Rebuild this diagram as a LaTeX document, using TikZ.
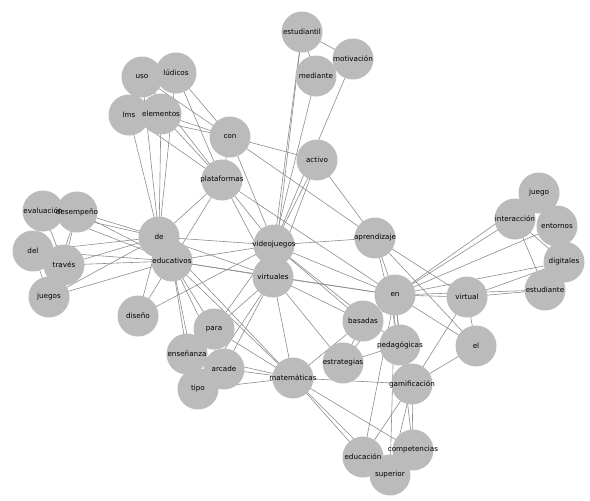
\documentclass[tikz,border=0pt]{standalone}
\usepackage{fontspec}
\setmainfont{DejaVu Sans}
\usetikzlibrary{backgrounds}
\definecolor{disk}{HTML}{BBBBBB}
\definecolor{wire}{HTML}{8C8C8C}
\pgfdeclarelayer{edgelayer}
\pgfdeclarelayer{disklayer}
\pgfsetlayers{edgelayer,disklayer,main}

\begin{document}
\begin{tikzpicture}[x=1pt, y=-1pt,
    word/.style={inner sep=0pt, font=\fontsize{7.2}{8}\selectfont},
    link/.style={wire, line width=0.6pt}]
    \useasboundingbox (0,0) rectangle (590,501);

    % Words
    \node[word] (estudiantil) at (302,32) {estudiantil};
    \node[word] (motivacion) at (353,59) {motivación};
    \node[word] (mediante) at (316,76) {mediante};
    \node[word] (uso) at (142,77) {uso};
    \node[word] (ludicos) at (176,73) {lúdicos};
    \node[word] (lms) at (129,115) {lms};
    \node[word] (elementos) at (161,114) {elementos};
    \node[word] (con) at (230,137) {con};
    \node[word] (activo) at (317,160) {activo};
    \node[word] (plataformas) at (222,180) {plataformas};
    \node[word] (evaluacion) at (43,211) {evaluación};
    \node[word] (desempeno) at (77,212) {desempeño};
    \node[word] (de) at (159,237) {de};
    \node[word] (del) at (33,251) {del};
    \node[word] (traves) at (64,265) {través};
    \node[word] (educativos) at (172,261) {educativos};
    \node[word] (videojuegos) at (274,245) {videojuegos};
    \node[word] (virtuales) at (273,277) {virtuales};
    \node[word] (juegos) at (49,297) {juegos};
    \node[word] (diseno) at (138,316) {diseño};
    \node[word] (aprendizaje) at (375,238) {aprendizaje};
    \node[word] (juego) at (539,193) {juego};
    \node[word] (interaccion) at (515,219) {interacción};
    \node[word] (entornos) at (557,226) {entornos};
    \node[word] (digitales) at (564,262) {digitales};
    \node[word] (estudiante) at (545,290) {estudiante};
    \node[word] (en) at (395,295) {en};
    \node[word] (virtual) at (467,297) {virtual};
    \node[word] (basadas) at (363,321) {basadas};
    \node[word] (pedagogicas) at (400,345) {pedagógicas};
    \node[word] (el) at (476,346) {el};
    \node[word] (estrategias) at (343,363) {estrategias};
    \node[word] (gamificacion) at (412,384) {gamificación};
    \node[word] (para) at (214,329) {para};
    \node[word] (ensenanza) at (187,354) {enseñanza};
    \node[word] (arcade) at (224,369) {arcade};
    \node[word] (tipo) at (198,389) {tipo};
    \node[word] (matematicas) at (293,378) {matemáticas};
    \node[word] (educacion) at (363,457) {educación};
    \node[word] (competencias) at (413,450) {competencias};
    \node[word] (superior) at (390,475) {superior};

    % Disks behind the words
    \begin{pgfonlayer}{disklayer}
    \foreach \w in {estudiantil,motivacion,mediante,uso,ludicos,lms,elementos,con,activo,
        plataformas,evaluacion,desempeno,de,del,traves,educativos,videojuegos,virtuales,
        juegos,diseno,aprendizaje,juego,interaccion,entornos,digitales,estudiante,en,
        virtual,basadas,pedagogicas,el,estrategias,gamificacion,para,ensenanza,arcade,
        tipo,matematicas,educacion,competencias,superior}
        \fill[disk] (\w.center) circle (20.5);
    \end{pgfonlayer}

    % Co-occurrence links
    \begin{pgfonlayer}{edgelayer}
    \foreach \a/\b in {uso/de, uso/con, uso/plataformas,
        ludicos/de, ludicos/con, ludicos/plataformas,
        lms/de, lms/con, lms/plataformas,
        elementos/de, elementos/con, elementos/plataformas,
        con/videojuegos, con/activo, con/aprendizaje, con/plataformas,
        plataformas/de, plataformas/educativos, plataformas/videojuegos,
        plataformas/virtuales, plataformas/en,
        estudiantil/motivacion, estudiantil/mediante, estudiantil/videojuegos,
        estudiantil/virtuales, mediante/videojuegos, motivacion/videojuegos,
        activo/videojuegos, activo/virtuales, activo/aprendizaje,
        evaluacion/de, evaluacion/educativos, evaluacion/traves,
        desempeno/de, desempeno/educativos, desempeno/traves, desempeno/juegos,
        del/de, del/educativos, del/juegos,
        traves/de, traves/educativos, traves/juegos,
        juegos/de, juegos/educativos,
        de/videojuegos, de/virtuales, de/diseno, de/matematicas,
        educativos/videojuegos, educativos/virtuales, educativos/en,
        educativos/matematicas, educativos/ensenanza, educativos/tipo,
        educativos/para, educativos/arcade, educativos/diseno,
        diseno/videojuegos,
        para/virtuales, para/videojuegos, para/matematicas,
        ensenanza/matematicas, arcade/virtuales, arcade/matematicas,
        tipo/matematicas, tipo/virtuales,
        videojuegos/aprendizaje, videojuegos/en, videojuegos/basadas,
        videojuegos/pedagogicas,
        virtuales/en, virtuales/basadas, virtuales/estrategias, virtuales/matematicas,
        aprendizaje/en, aprendizaje/pedagogicas, aprendizaje/virtual, aprendizaje/el,
        en/virtual, en/el, en/interaccion, en/juego, en/entornos, en/digitales,
        en/estudiante, en/basadas, en/pedagogicas, en/educacion, en/superior,
        en/competencias,
        virtual/estudiante, virtual/digitales, virtual/el, virtual/gamificacion,
        interaccion/estudiante, interaccion/digitales, entornos/estudiante,
        el/gamificacion,
        basadas/estrategias, basadas/matematicas, estrategias/en,
        estrategias/pedagogicas,
        matematicas/gamificacion, matematicas/educacion, matematicas/superior,
        matematicas/competencias,
        gamificacion/educacion, gamificacion/superior, gamificacion/competencias}
        \draw[link] (\a.center) -- (\b.center);
    \end{pgfonlayer}
\end{tikzpicture}
\end{document}
